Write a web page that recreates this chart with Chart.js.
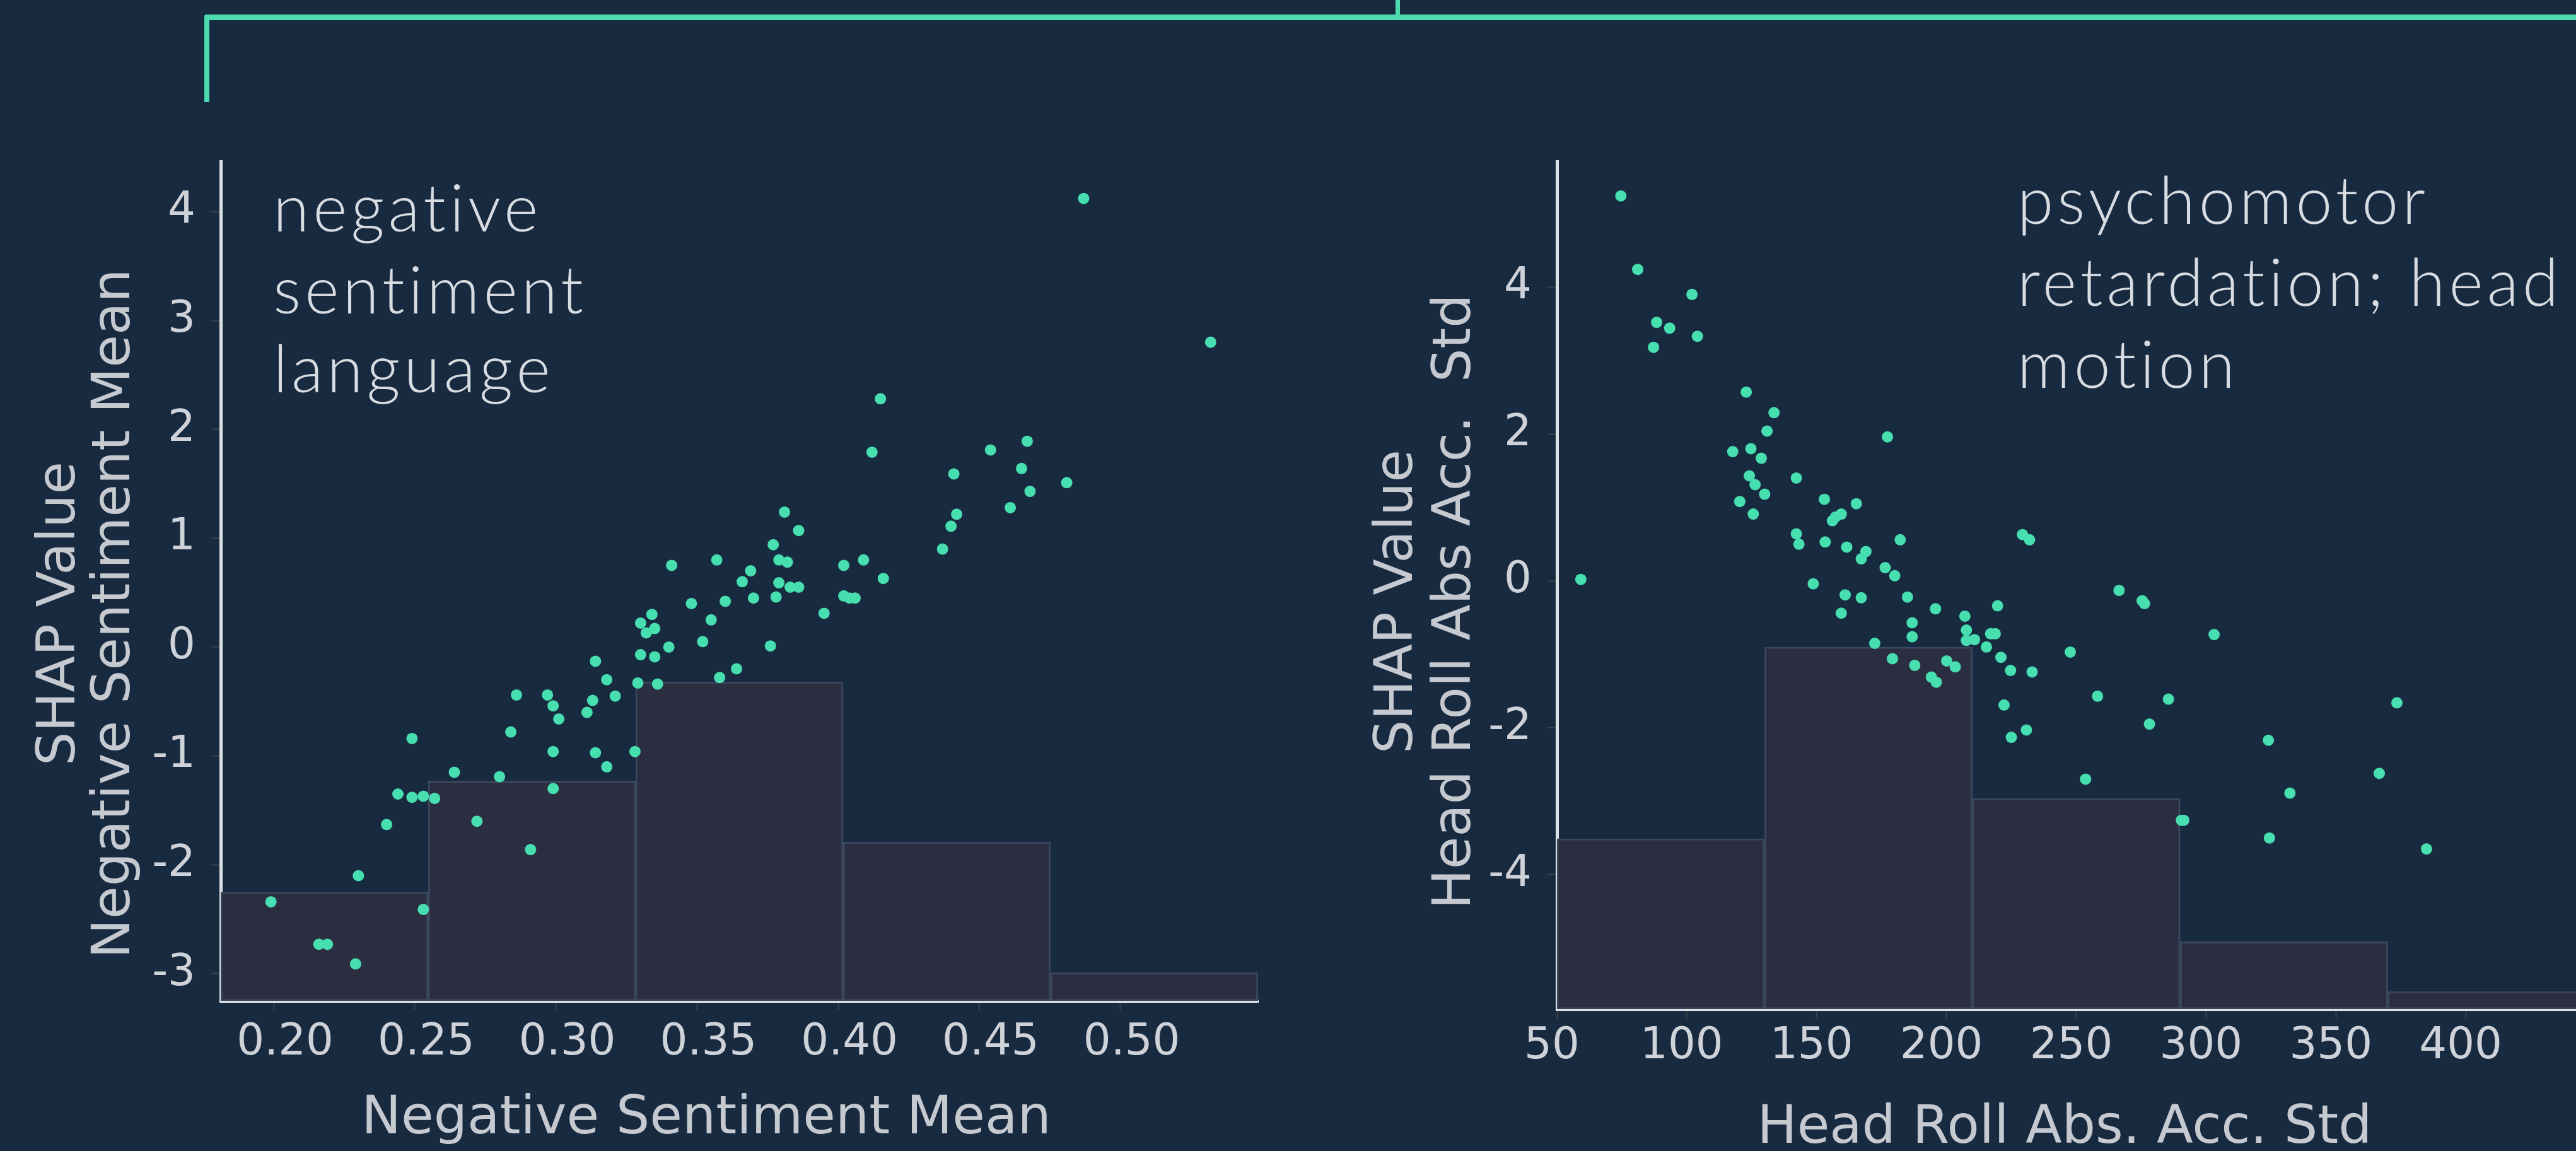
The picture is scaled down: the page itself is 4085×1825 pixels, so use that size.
<!DOCTYPE html>
<html>
<head>
<meta charset="utf-8">
<script src="https://cdn.jsdelivr.net/npm/chart.js@4.4.1/dist/chart.umd.min.js"></script>
<style>
  html, body { margin: 0; padding: 0; background: #172a40; width: 4085px; height: 1825px; overflow: hidden; }
  .wrap { position: absolute; top: 0; }
  .bracket { position: absolute; background: #4cdcb0; }
</style>
</head>
<body>
<div class="bracket" style="left:324px; top:23px; width:3761px; height:9px; border-top-left-radius:4px;"></div>
<div class="bracket" style="left:324px; top:23px; width:8px; height:139px; border-top-left-radius:4px;"></div>
<div class="bracket" style="left:2213px; top:0px; width:7px; height:25px;"></div>

<div class="wrap" style="left:0px;"><canvas id="left" width="2060" height="1825"></canvas></div>
<div class="wrap" style="left:2100px;"><canvas id="right" width="2100" height="1825"></canvas></div>

<script>
// ---- data: negative sentiment panel ----
const negBinLabels = ['b1', 'b2', 'b3', 'b4', 'b5'];
const negBinTops = [-2.25, -1.23, -0.32, -1.79, -2.99];
const negXTicks = [0.20, 0.25, 0.30, 0.35, 0.40, 0.45, 0.50];
const negYTicks = [-3, -2, -1, 0, 1, 2, 3, 4];
const negX = [0.487, 0.532, 0.415, 0.412, 0.454, 0.467, 0.465, 0.481, 0.441, 0.468, 0.461, 0.442, 0.440, 0.437,
  0.381, 0.386, 0.377, 0.379, 0.382, 0.357, 0.341, 0.369, 0.366, 0.379, 0.383, 0.386, 0.378, 0.370, 0.360, 0.348,
  0.402, 0.409, 0.416, 0.402, 0.404, 0.406, 0.395, 0.355, 0.330, 0.334, 0.332, 0.335, 0.352, 0.340, 0.376, 0.330,
  0.335, 0.314, 0.364, 0.358, 0.329, 0.336, 0.318, 0.321, 0.313, 0.286, 0.297, 0.299, 0.301, 0.311, 0.284, 0.249,
  0.299, 0.314, 0.328, 0.318, 0.264, 0.280, 0.299, 0.244, 0.249, 0.253, 0.257, 0.272, 0.240, 0.291, 0.230, 0.199,
  0.253, 0.216, 0.219, 0.229];
const negY = [4.12, 2.80, 2.28, 1.79, 1.81, 1.89, 1.64, 1.51, 1.59, 1.43, 1.28, 1.22, 1.11, 0.90,
  1.24, 1.07, 0.94, 0.80, 0.78, 0.80, 0.75, 0.70, 0.60, 0.59, 0.55, 0.55, 0.46, 0.45, 0.42, 0.40,
  0.75, 0.80, 0.63, 0.47, 0.45, 0.45, 0.31, 0.25, 0.22, 0.30, 0.13, 0.17, 0.05, 0.00, 0.01, -0.07,
  -0.09, -0.13, -0.20, -0.28, -0.33, -0.34, -0.30, -0.45, -0.49, -0.44, -0.44, -0.54, -0.66, -0.60, -0.78, -0.84,
  -0.96, -0.97, -0.96, -1.10, -1.15, -1.19, -1.30, -1.35, -1.38, -1.37, -1.39, -1.60, -1.63, -1.86, -2.10, -2.34,
  -2.41, -2.73, -2.73, -2.91];

// ---- data: head roll panel ----
const headBinLabels = ['b1', 'b2', 'b3', 'b4', 'b5'];
const headBinTops = [-3.51, -0.90, -2.96, -4.91, -5.59];
const headXTicks = [50, 100, 150, 200, 250, 300, 350, 400];
const headYTicks = [-4, -2, 0, 2, 4];
const headX = [74.6, 81.1, 102.0, 88.4, 93.4, 87.2, 104.1, 59.2, 122.9, 133.6, 130.9, 177.3, 117.7, 124.7, 128.7,
  124.1, 126.3, 130.0, 120.4, 125.6, 142.2, 153.0, 165.3, 159.5, 157.3, 156.1, 142.2, 143.2, 153.3, 161.6, 169.0,
  167.2, 182.2, 176.4, 180.1, 229.3, 232.0, 148.7, 161.0, 167.2, 159.5, 185.0, 195.8, 186.8, 207.1, 219.7, 207.7,
  217.0, 218.8, 186.8, 207.7, 210.8, 215.4, 172.4, 179.2, 187.8, 200.1, 203.4, 194.2, 196.1, 221.0, 224.7, 233.0,
  247.7, 266.5, 275.4, 276.3, 303.1, 222.2, 258.2, 285.5, 278.2, 230.8, 225.0, 324.0, 373.5, 253.6, 366.7, 332.3,
  290.5, 291.4, 324.4, 384.9];
const headY = [5.24, 4.24, 3.90, 3.52, 3.44, 3.18, 3.33, 0.02, 2.57, 2.29, 2.04, 1.96, 1.76, 1.80, 1.67,
  1.43, 1.31, 1.18, 1.08, 0.91, 1.40, 1.11, 1.05, 0.91, 0.87, 0.82, 0.64, 0.50, 0.53, 0.46, 0.40,
  0.30, 0.56, 0.18, 0.07, 0.63, 0.56, -0.04, -0.19, -0.23, -0.44, -0.22, -0.38, -0.57, -0.48, -0.34, -0.67,
  -0.72, -0.72, -0.76, -0.81, -0.80, -0.90, -0.85, -1.06, -1.15, -1.09, -1.17, -1.31, -1.38, -1.04, -1.22, -1.24,
  -0.97, -0.13, -0.27, -0.31, -0.73, -1.69, -1.57, -1.61, -1.95, -2.03, -2.13, -2.17, -1.66, -2.70, -2.62, -2.89,
  -3.26, -3.26, -3.50, -3.65];

const TEAL = '#47deb0';
const BAR_FILL = '#2b2e41';
const BAR_EDGE = '#3a475d';
const AXIS = '#dde1e6';
const TICK_TXT = '#cfd3d9';
const TITLE_TXT = '#c6cad0';
const NOTE_TXT = '#d8dce1';
const TITLE_FONT = '84px "DejaVu Sans"';
const NOTE_FONT = '300 104px Lato';
const NOTE_GAP = '6px';

Chart.defaults.font.family = '"DejaVu Sans"';
Chart.defaults.color = TICK_TXT;

// draws axis titles and the annotation text
const textPlugin = {
  id: 'texts',
  afterDraw(chart, args, opts) {
    const ctx = chart.ctx;
    (opts.items || []).forEach(t => {
      ctx.save();
      ctx.font = t.font;
      ctx.fillStyle = t.color;
      ctx.textAlign = t.align || 'left';
      ctx.textBaseline = 'alphabetic';
      if (t.spacing) ctx.letterSpacing = t.spacing;
      ctx.translate(t.x, t.y);
      if (t.rotate) ctx.rotate(t.rotate);
      ctx.fillText(t.text, 0, 0);
      ctx.restore();
    });
  }
};

function useTicks(values) {
  return scale => { scale.ticks = values.map(v => ({ value: v })); };
}

function fixSize(prop, size) {
  return scale => {
    scale[prop] = size;
    scale.paddingTop = 0; scale.paddingBottom = 0;
    scale.paddingLeft = 0; scale.paddingRight = 0;
  };
}

function makePanel(id, cfg) {
  const pts = cfg.xs.map((x, i) => ({ x: x, y: cfg.ys[i] }));
  return new Chart(document.getElementById(id), {
    type: 'scatter',
    data: {
      datasets: [
        {
          type: 'scatter',
          data: pts,
          xAxisID: 'x',
          yAxisID: 'y',
          pointRadius: 9,
          pointHoverRadius: 9,
          pointBorderWidth: 0,
          backgroundColor: TEAL,
          order: 1
        },
        {
          type: 'bar',
          data: cfg.binTops.map(h => [cfg.yMin, h]),
          xAxisID: 'xb',
          yAxisID: 'y',
          backgroundColor: BAR_FILL,
          borderColor: BAR_EDGE,
          borderWidth: 3,
          borderSkipped: false,
          grouped: false,
          barPercentage: 1,
          categoryPercentage: 1,
          order: 2
        }
      ]
    },
    options: {
      responsive: false,
      devicePixelRatio: 1,
      animation: false,
      layout: { padding: cfg.padding },
      plugins: {
        legend: { display: false },
        tooltip: { enabled: false },
        texts: { items: cfg.texts }
      },
      scales: {
        xb: {
          type: 'category',
          labels: cfg.binLabels,
          offset: true,
          display: false
        },
        x: {
          type: 'linear',
          position: 'bottom',
          min: cfg.xMin,
          max: cfg.xMax,
          afterBuildTicks: useTicks(cfg.xTicks),
          afterFit: fixSize('height', cfg.xAxisHeight),
          grid: { display: true, drawOnChartArea: false, drawTicks: true, tickLength: 15, tickWidth: 2, tickColor: '#3e4247' },
          border: { display: true, color: AXIS, width: 5 },
          ticks: {
            autoSkip: false,
            maxRotation: 0,
            padding: cfg.xPad,
            labelOffset: cfg.xLabelOffset,
            color: TICK_TXT,
            font: { size: 69, family: '"DejaVu Sans"' },
            callback: cfg.xFmt
          }
        },
        y: {
          type: 'linear',
          min: cfg.yMin,
          max: cfg.yMax,
          afterBuildTicks: useTicks(cfg.yTicks),
          afterFit: fixSize('width', cfg.yAxisWidth),
          grid: { display: true, drawOnChartArea: false, drawTicks: true, tickLength: 15, tickWidth: 2, tickColor: '#3e4247' },
          border: { display: true, color: AXIS, width: 5 },
          ticks: {
            autoSkip: false,
            padding: 25,
            color: TICK_TXT,
            font: { size: 69, family: '"DejaVu Sans"' },
            callback: v => String(v)
          }
        }
      }
    },
    plugins: [textPlugin]
  });
}

makePanel('left', {
  xs: negX, ys: negY,
  binLabels: negBinLabels, binTops: negBinTops,
  xTicks: negXTicks, yTicks: negYTicks,
  xMin: 0.1812, xMax: 0.5488, yMin: -3.25, yMax: 4.46,
  xFmt: v => v.toFixed(2),
  xPad: 11, xLabelOffset: 18,
  yAxisWidth: 350, xAxisHeight: 238,
  padding: { top: 256, right: 65, bottom: 0, left: 0 },
  texts: [
    { text: 'SHAP Value', x: 118, y: 973, rotate: -Math.PI / 2, align: 'center', font: TITLE_FONT, color: TITLE_TXT },
    { text: 'Negative Sentiment Mean', x: 205, y: 973, rotate: -Math.PI / 2, align: 'center', font: TITLE_FONT, color: TITLE_TXT },
    { text: 'Negative Sentiment Mean', x: 1120, y: 1797, align: 'center', font: TITLE_FONT, color: TITLE_TXT },
    { text: 'negative', x: 433, y: 367, font: NOTE_FONT, color: NOTE_TXT, spacing: NOTE_GAP },
    { text: 'sentiment', x: 433, y: 497, font: NOTE_FONT, color: NOTE_TXT, spacing: NOTE_GAP },
    { text: 'language', x: 433, y: 622, font: NOTE_FONT, color: NOTE_TXT, spacing: NOTE_GAP }
  ]
});

makePanel('right', {
  xs: headX, ys: headY,
  binLabels: headBinLabels, binTops: headBinTops,
  xTicks: headXTicks, yTicks: headYTicks,
  xMin: 50, xMax: 450, yMin: -5.83, yMax: 5.71,
  xFmt: v => String(v),
  xPad: 4, xLabelOffset: -8,
  yAxisWidth: 369, xAxisHeight: 225,
  padding: { top: 256, right: 84, bottom: 0, left: 0 },
  texts: [
    { text: 'SHAP Value', x: 139, y: 954, rotate: -Math.PI / 2, align: 'center', font: TITLE_FONT, color: TITLE_TXT },
    { text: 'Head Roll Abs Acc.  Std', x: 231, y: 954, rotate: -Math.PI / 2, align: 'center', font: TITLE_FONT, color: TITLE_TXT },
    { text: 'Head Roll Abs. Acc. Std', x: 1174, y: 1812, align: 'center', font: TITLE_FONT, color: TITLE_TXT },
    { text: 'psychomotor', x: 1099, y: 355, font: NOTE_FONT, color: NOTE_TXT, spacing: NOTE_GAP },
    { text: 'retardation; head', x: 1099, y: 485, font: NOTE_FONT, color: NOTE_TXT, spacing: NOTE_GAP },
    { text: 'motion', x: 1099, y: 615, font: NOTE_FONT, color: NOTE_TXT, spacing: NOTE_GAP }
  ]
});
</script>
</body>
</html>
